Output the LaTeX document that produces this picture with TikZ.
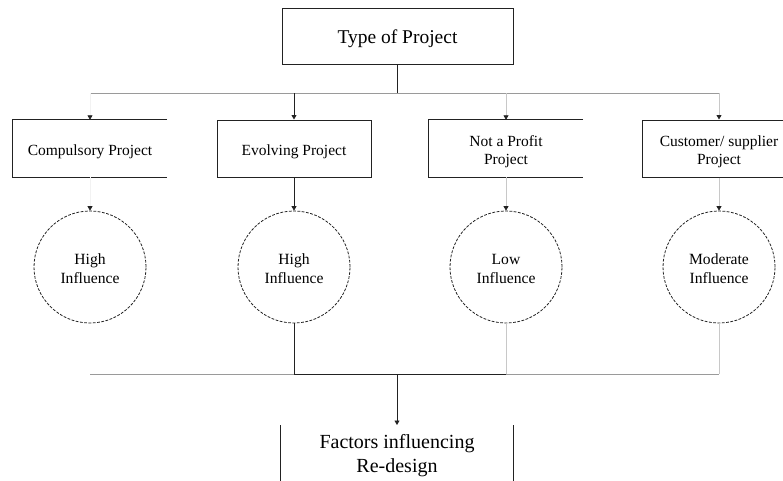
\documentclass[tikz,border=0pt]{standalone}
\usepackage{fontspec}
\setmainfont{Liberation Serif}
\usetikzlibrary{arrows.meta}
\definecolor{ink}{HTML}{222222}
\definecolor{midline}{HTML}{9A9A9A}
\definecolor{faint}{HTML}{C8C8C8}
\definecolor{ghost}{HTML}{F2F2F2}
\tikzset{
  boxnode/.style={rectangle, minimum width=154pt, minimum height=57pt, inner sep=0pt},
  boxtext/.style={inner sep=0pt, align=center, font=\fontsize{15.5pt}{18pt}\selectfont},
  circnode/.style={circle, draw=ink, line width=0.8pt, dash pattern=on 2.8pt off 1.5pt, minimum size=112pt, inner sep=0pt},
  circtext/.style={inner sep=0pt, align=center, font=\fontsize{15.6pt}{19pt}\selectfont},
  edge/.style={line width=0.8pt},
  tip/.style={-{Triangle[width=5pt,length=4.5pt,color=ink]}},
}
\begin{document}
\begin{tikzpicture}[x=1pt,y=-1pt]
\useasboundingbox (0,0) rectangle (783,480);
\clip (0,0) rectangle (783,480);
% top box
\node[rectangle, draw=ink, line width=1pt, minimum width=231pt, minimum height=56pt] (top) at (397.5,36) {};
\node[inner sep=0pt, font=\fontsize{19.5pt}{22pt}\selectfont] (topt) at ([yshift=-3pt]top.center) {Type of Project};
% project boxes
\node[boxnode] (comp) at (90,148.5) {};
\node[boxnode, draw=ink, line width=1pt] (evol) at (294,148.5) {};
\node[boxnode] (nprof) at (506,148.5) {};
\node[boxnode, draw=ink, line width=1pt] (cust) at (719,148.5) {};
\node[boxtext] (compt) at ([yshift=-3pt]comp.center) {Compulsory Project};
\node[boxtext] (evolt) at ([yshift=-3pt]evol.center) {Evolving Project};
\node[boxtext] (nproft) at ([yshift=-3pt]nprof.center) {Not a Profit\\Project};
\node[boxtext] (custt) at ([yshift=-3pt]cust.center) {Customer/ supplier\\Project};
\draw[ink, line width=1pt] (comp.north east) -- (comp.north west) -- (comp.south west) -- (comp.south east);
\draw[ink, line width=1pt] (nprof.north east) -- (nprof.north west) -- (nprof.south west) -- (nprof.south east);
% circles
\node[circnode] (c1) at (90,267) {};
\node[circnode] (c2) at (294,267) {};
\node[circnode] (c3) at (506,267) {};
\node[circnode] (c4) at (719,267) {};
\node[circtext] (c1t) at ([yshift=-2pt]c1.center) {High\\Influence};
\node[circtext] (c2t) at ([yshift=-2pt]c2.center) {High\\Influence};
\node[circtext] (c3t) at ([yshift=-2pt]c3.center) {Low\\Influence};
\node[circtext] (c4t) at ([yshift=-2pt]c4.center) {Moderate\\Influence};
% bottom box
\node[rectangle, minimum width=232pt, minimum height=70pt, anchor=north, inner sep=0pt] (fact) at (397,425) {};
\node[inner sep=0pt, align=center, anchor=north, font=\fontsize{20pt}{24pt}\selectfont] (factt) at ([yshift=-9pt]fact.north) {Factors influencing\\Re-design};
\draw[ink, line width=1pt] (fact.north west) -- (fact.south west);
\draw[ink, line width=1pt] (fact.north east) -- (fact.south east);
% top distribution
\coordinate (hjoin) at (top.south |- 0,93);
\coordinate (hl) at (comp.north |- 0,93);
\coordinate (h2) at (evol.north |- 0,93);
\coordinate (h3) at (nprof.north |- 0,93);
\coordinate (hr) at (cust.north |- 0,93);
\draw[edge, midline] (hl) -- (hr);
\draw[edge, ink] (top.south) -- (hjoin);
\draw[edge, ghost, tip] (hl) -- (comp.north);
\draw[edge, ink, tip] (h2) -- (evol.north);
\draw[edge, faint, tip] (h3) -- (nprof.north);
\draw[edge, faint, tip] (hr) -- (cust.north);
% boxes to circles
\draw[edge, ghost, tip] (comp.south) -- (c1.north);
\draw[edge, ink, tip] (evol.south) -- (c2.north);
\draw[edge, faint, tip] (nprof.south) -- (c3.north);
\draw[edge, faint, tip] (cust.south) -- (c4.north);
% collection
\coordinate (bl) at (c1.south |- 0,374);
\coordinate (b2) at (c2.south |- 0,374);
\coordinate (b3) at (c3.south |- 0,374);
\coordinate (br) at (c4.south |- 0,374);
\coordinate (bjoin) at (fact.north |- 0,374);
\draw[edge, ink] (c2.south) -- (b2);
\draw[edge, faint] (c3.south) -- (b3);
\draw[edge, faint] (c4.south) -- (br);
\draw[edge, midline] (bl) -- (b2);
\draw[edge, ink] (b2) -- (b3);
\draw[edge, midline] (b3) -- (br);
\draw[edge, ink, tip] (bjoin) -- (fact.north);
\end{tikzpicture}
\end{document}
